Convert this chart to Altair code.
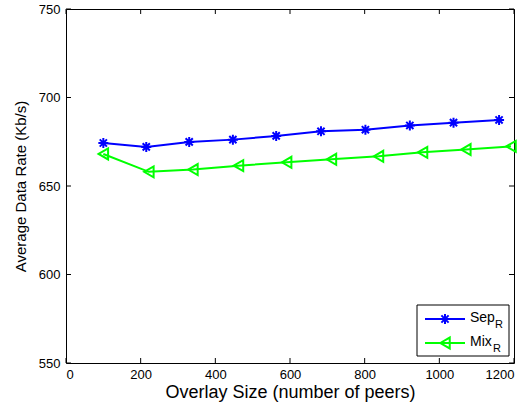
import altair as alt
import pandas as pd

# Data
x_sep = [100, 215, 330, 447, 563, 683, 802, 921, 1038, 1160]
y_sep = [674.3, 672.1, 674.9, 676.2, 678.3, 680.9, 681.8, 684.2, 685.8, 687.3]
x_mix = [100, 222, 340, 462, 591, 711, 837, 955, 1071, 1192]
y_mix = [668.1, 658.0, 659.3, 661.5, 663.4, 665.1, 666.8, 669.0, 670.6, 672.4]
x_ticks = [0, 200, 400, 600, 800, 1000, 1200]
y_ticks = [550, 600, 650, 700, 750]

W, H = 448, 354
FONT = "Liberation Sans"
BLUE = "#0000ff"
GREEN = "#00ff00"
ASTERISK = "M-1,0L1,0M0,-1L0,1M-0.72,-0.72L0.72,0.72M-0.72,0.72L0.72,-0.72"

sep = pd.DataFrame({"x": x_sep, "y": y_sep})
mix = pd.DataFrame({"x": x_mix, "y": y_mix})
xt = pd.DataFrame({"v": x_ticks})
yt = pd.DataFrame({"v": y_ticks})

xs = alt.Scale(domain=[0, 1200], nice=False, zero=False)
ys = alt.Scale(domain=[550, 750], nice=False, zero=False)

xaxis = alt.Axis(values=x_ticks, format="d", title="Overlay Size (number of peers)", grid=False,
                 domain=False, ticks=False, labelPadding=5, labelFontSize=13,
                 labelFont=FONT, labelColor="black", titleFont=FONT, titleFontSize=18,
                 titleFontWeight="normal", titleColor="black", titlePadding=2)
yaxis = alt.Axis(values=y_ticks, format="d", title="Average Data Rate (Kb/s)", grid=False,
                 domain=False, ticks=False, labelPadding=6, labelFontSize=13,
                 labelFont=FONT, labelColor="black", titleFont=FONT, titleFontSize=15,
                 titleFontWeight="normal", titleColor="black", titlePadding=10)

X = alt.X("x:Q", scale=xs, axis=xaxis)
Y = alt.Y("y:Q", scale=ys, axis=yaxis)

sep_line = alt.Chart(sep).mark_line(color=BLUE, strokeWidth=2).encode(x=X, y=Y)
sep_pts = alt.Chart(sep).mark_point(shape=ASTERISK, size=100, color=BLUE, strokeWidth=2,
                                    filled=False, opacity=1).encode(x=X, y=Y)
mix_line = alt.Chart(mix).mark_line(color=GREEN, strokeWidth=2).encode(x=X, y=Y)
mix_pts = alt.Chart(mix).mark_point(shape="triangle-left", size=120, color=GREEN,
                                    strokeWidth=2, filled=False, opacity=1).encode(x=X, y=Y)

tk = dict(color="black", strokeWidth=1)
xb = alt.Chart(xt).mark_rule(**tk).encode(x=alt.X("v:Q", scale=xs), y=alt.value(H), y2=alt.value(H - 5))
xtop = alt.Chart(xt).mark_rule(**tk).encode(x=alt.X("v:Q", scale=xs), y=alt.value(0), y2=alt.value(5))
yl = alt.Chart(yt).mark_rule(**tk).encode(y=alt.Y("v:Q", scale=ys), x=alt.value(0), x2=alt.value(5))
yr = alt.Chart(yt).mark_rule(**tk).encode(y=alt.Y("v:Q", scale=ys), x=alt.value(W), x2=alt.value(W - 5))

# Legend (drawn manually to allow subscripts)
leg_df = pd.DataFrame({"a": [0]})
box = alt.Chart(leg_df).mark_rect(fill="white", stroke="black", strokeWidth=1).encode(
    x=alt.value(351), x2=alt.value(443), y=alt.value(296), y2=alt.value(347))
l1 = alt.Chart(leg_df).mark_rule(color=BLUE, strokeWidth=2).encode(
    x=alt.value(359), x2=alt.value(399), y=alt.value(310))
p1 = alt.Chart(leg_df).mark_point(shape=ASTERISK, size=100, color=BLUE, strokeWidth=2,
                                  filled=False, opacity=1).encode(x=alt.value(379), y=alt.value(310))
l2 = alt.Chart(leg_df).mark_rule(color=GREEN, strokeWidth=2).encode(
    x=alt.value(359), x2=alt.value(399), y=alt.value(334))
p2 = alt.Chart(leg_df).mark_point(shape="triangle-left", size=120, color=GREEN, strokeWidth=2,
                                  filled=False, opacity=1).encode(x=alt.value(379), y=alt.value(334))
txt = dict(font=FONT, color="black", align="left", baseline="alphabetic")
t1 = alt.Chart(leg_df).mark_text(text="Sep", fontSize=14, **txt).encode(x=alt.value(404), y=alt.value(313))
t1s = alt.Chart(leg_df).mark_text(text="R", fontSize=11, **txt).encode(x=alt.value(429), y=alt.value(319))
t2 = alt.Chart(leg_df).mark_text(text="Mix", fontSize=14, **txt).encode(x=alt.value(404), y=alt.value(337))
t2s = alt.Chart(leg_df).mark_text(text="R", fontSize=11, **txt).encode(x=alt.value(427), y=alt.value(343))

chart = alt.layer(
    xb, xtop, yl, yr, mix_line, mix_pts, sep_line, sep_pts,
    box, l1, p1, l2, p2, t1, t1s, t2, t2s
).properties(
    width=W, height=H,
    autosize=alt.AutoSizeParams(type="none"),
    padding={"left": 66, "top": 9, "right": 15, "bottom": 48},
    background="white",
).configure_view(stroke="black", strokeWidth=1)

chart.save("out.html", embed_options={"renderer": "svg", "actions": False})
